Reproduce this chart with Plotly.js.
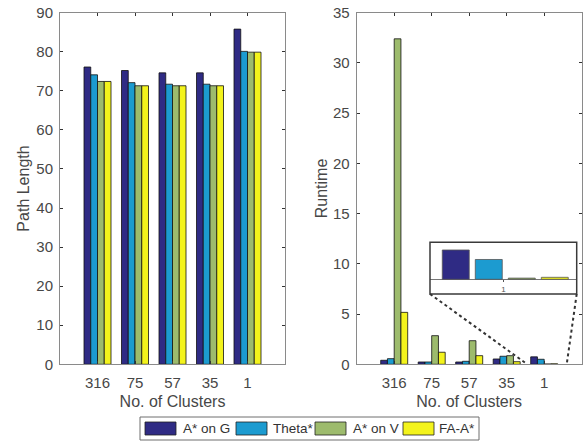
<!DOCTYPE html>
<html>
<head>
<meta charset="utf-8">
<script src="https://cdn.plot.ly/plotly-3.0.1.min.js"></script>
<style>
  html, body { margin: 0; padding: 0; background: #fff; }
  #chart { width: 584px; height: 443px; }
</style>
</head>
<body>
<div id="chart"></div>
<script>
// Number of clusters used for each run
const clusters = ['316', '75', '57', '35', '1'];

// Algorithms compared
const seriesNames = ['A* on G', 'Theta*', 'A* on V', 'FA-A*'];
const seriesColors = ['#2f2b84', '#1c9bd0', '#9dbb6d', '#f3f31c'];

// Path length per algorithm
const pathAStarG = [76.1, 75.2, 74.6, 74.6, 85.8];
const pathTheta  = [74.1, 72.1, 71.7, 71.7, 80.1];
const pathAStarV = [72.4, 71.3, 71.3, 71.3, 79.9];
const pathFAAStar = [72.4, 71.3, 71.3, 71.3, 79.9];

// Runtime per algorithm
const runAStarG = [0.40, 0.23, 0.23, 0.53, 0.74];
const runTheta  = [0.56, 0.23, 0.30, 0.80, 0.50];
const runAStarV = [32.4, 2.85, 2.35, 0.86, 0.03];
const runFAAStar = [5.17, 1.20, 0.86, 0.26, 0.05];

const pathSeries = [pathAStarG, pathTheta, pathAStarV, pathFAAStar];
const runSeries = [runAStarG, runTheta, runAStarV, runFAAStar];

const textColor = '#474747';
const lineColor = '#8a8a8a';
const fontFamily = 'Liberation Sans, Arial, sans-serif';

const traces = [];

// Left panel: path length
pathSeries.forEach((vals, i) => {
  traces.push({
    type: 'bar', x: clusters, y: vals, name: seriesNames[i],
    xaxis: 'x', yaxis: 'y', showlegend: false,
    marker: { color: seriesColors[i], line: { color: '#111', width: 0.8 } },
    hoverinfo: 'skip'
  });
});

// Right panel: runtime
runSeries.forEach((vals, i) => {
  traces.push({
    type: 'bar', x: clusters, y: vals, name: seriesNames[i],
    xaxis: 'x2', yaxis: 'y2', showlegend: false,
    marker: { color: seriesColors[i], line: { color: '#111', width: 0.8 } },
    hoverinfo: 'skip'
  });
});

// Inset: zoom on the single-cluster runtimes
const last = clusters.length - 1;
const insetPitch = 0.18, insetWidth = 0.147;
runSeries.forEach((vals, i) => {
  traces.push({
    type: 'bar', x: [clusters[last]], y: [vals[last]], name: seriesNames[i],
    xaxis: 'x3', yaxis: 'y3', showlegend: false,
    width: insetWidth, offset: -0.333 + i * insetPitch,
    marker: { color: seriesColors[i], line: { color: '#555', width: 0.8 } },
    hoverinfo: 'skip'
  });
});

const tickFont = { family: fontFamily, size: 15, color: textColor };
const titleFont = { family: fontFamily, size: 16, color: textColor };

function mainX(domain, anchor) {
  return {
    domain: domain, anchor: anchor, type: 'category', range: [-1, 5],
    showline: true, linecolor: lineColor, linewidth: 1, mirror: 'ticks',
    ticks: 'inside', ticklen: 3, tickcolor: '#333', tickwidth: 1,
    tickfont: tickFont, ticklabelstandoff: 5,
    title: { text: 'No. of Clusters', font: titleFont, standoff: 5 },
    showgrid: false, zeroline: false, fixedrange: true
  };
}
function mainY(domain, anchor, range, dtick, label, standoff) {
  return {
    domain: domain, anchor: anchor, range: range, dtick: dtick,
    showline: true, linecolor: lineColor, linewidth: 1, mirror: 'ticks',
    ticks: 'inside', ticklen: 3, tickcolor: '#333', tickwidth: 1,
    tickfont: tickFont, ticklabelstandoff: 3,
    title: { text: label, font: titleFont, standoff: standoff },
    showgrid: false, zeroline: false, fixedrange: true
  };
}

const plotBottom = 1 - 364.3 / 443, plotTop = 1 - 12.7 / 443;
const insetX = [430 / 584, 576.7 / 584];
const insetY = [1 - 294 / 443, 1 - 242.3 / 443];

// Custom legend row beneath both panels
const shapes = [];
const annotations = [];
const legendSwatchX = [145, 236, 315, 403];
const legendTextX = [181, 271, 351, 437];
shapes.push({
  type: 'rect', xref: 'paper', yref: 'paper',
  x0: 140 / 584, x1: 479 / 584, y0: 1 - 440 / 443, y1: 1 - 417 / 443,
  line: { color: '#6e6e6e', width: 1 }, fillcolor: '#fff'
});
seriesNames.forEach((name, i) => {
  shapes.push({
    type: 'rect', xref: 'paper', yref: 'paper',
    x0: legendSwatchX[i] / 584, x1: (legendSwatchX[i] + 31) / 584,
    y0: 1 - 435 / 443, y1: 1 - 422 / 443,
    line: { color: '#222', width: 0.8 }, fillcolor: seriesColors[i]
  });
  annotations.push({
    xref: 'paper', yref: 'paper', x: legendTextX[i] / 584, y: 1 - 428.5 / 443,
    xanchor: 'left', yanchor: 'middle', showarrow: false, text: name,
    font: { family: fontFamily, size: 13.5, color: '#333' }
  });
});

// Inset frame and dotted connectors to the zoomed region
shapes.push({
  type: 'rect', xref: 'x3 domain', yref: 'y3 domain', x0: 0, x1: 1, y0: 0, y1: 1,
  line: { color: '#3a3a3a', width: 1.5 }
});
shapes.push({
  type: 'line', xref: 'paper', yref: 'paper',
  x0: insetX[0], y0: insetY[0], x1: 527.3 / 584, y1: plotBottom,
  line: { color: '#333', width: 2, dash: 'dot' }
});
shapes.push({
  type: 'line', xref: 'paper', yref: 'paper',
  x0: insetX[1], y0: insetY[0], x1: 566.7 / 584, y1: plotBottom,
  line: { color: '#333', width: 2, dash: 'dot' }
});

const layout = {
  width: 584, height: 443,
  margin: { l: 0, r: 0, t: 0, b: 0 },
  paper_bgcolor: '#fff', plot_bgcolor: '#fff',
  barmode: 'group', bargap: 0.28, bargroupgap: 0,
  showlegend: false,
  font: { family: fontFamily, color: textColor },
  xaxis: mainX([60 / 584, 285 / 584], 'y'),
  yaxis: mainY([plotBottom, plotTop], 'x', [0, 90], 10, 'Path Length', 2),
  xaxis2: mainX([356.7 / 584, 581.7 / 584], 'y2'),
  yaxis2: mainY([plotBottom, plotTop], 'x2', [0, 35], 5, 'Runtime', 1),
  xaxis3: {
    domain: insetX, anchor: 'free', position: 1 - 279.3 / 443,
    type: 'category', range: [-0.4, 0.4],
    showline: false, ticks: 'outside', ticklen: 2, tickcolor: '#555',
    tickfont: { family: fontFamily, size: 8, color: '#555' },
    showgrid: false, zeroline: false, fixedrange: true
  },
  yaxis3: {
    domain: insetY, anchor: 'x3', range: [-0.371, 0.934],
    showticklabels: false, ticks: '', showgrid: false,
    zeroline: true, zerolinecolor: '#777', zerolinewidth: 1,
    showline: false, fixedrange: true
  },
  shapes: shapes,
  annotations: annotations
};

Plotly.newPlot('chart', traces, layout, { staticPlot: true, displayModeBar: false });
</script>
</body>
</html>
